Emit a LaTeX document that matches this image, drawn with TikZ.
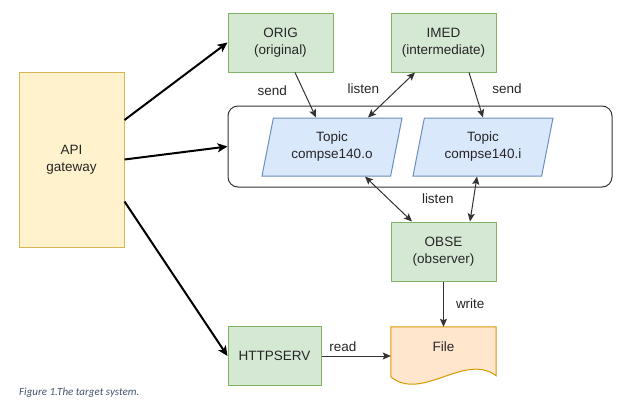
\documentclass[tikz,border=0pt]{standalone}
\usepackage{fontspec}
\setmainfont{Liberation Sans}
\newfontfamily\capfont{Carlito}
\usetikzlibrary{shapes.geometric,arrows.meta,positioning,backgrounds}
\definecolor{grfill}{HTML}{D5E8D4}
\definecolor{grline}{HTML}{82B366}
\definecolor{yefill}{HTML}{FFF2CC}
\definecolor{yeline}{HTML}{D6B656}
\definecolor{blfill}{HTML}{DAE8FC}
\definecolor{blline}{HTML}{6C8EBF}
\definecolor{orfill}{HTML}{FFE6CC}
\definecolor{orline}{HTML}{D79B00}
\definecolor{lnk}{HTML}{333333}
\definecolor{capcol}{HTML}{44546A}

\begin{document}
\begin{tikzpicture}[x=1pt, y=-1pt,
    font=\fontsize{13.5}{17}\selectfont, text=black!85,
    box/.style={draw=grline, fill=grfill, line width=1pt, minimum width=105pt,
                minimum height=59pt, align=center, inner sep=0pt},
    gate/.style={draw=yeline, fill=yefill, line width=1pt, minimum width=105pt,
                 minimum height=175pt, align=center, inner sep=0pt},
    topic/.style={trapezium, trapezium left angle=69, trapezium right angle=111,
                  trapezium stretches body, draw=blline, fill=blfill, line width=1pt,
                  minimum width=140pt, minimum height=58pt, align=center, inner sep=0pt},
    bus/.style={draw=lnk, line width=1pt, rounded corners=10pt, minimum width=384pt,
                minimum height=81pt},
    filebox/.style={minimum width=105pt, minimum height=40pt, inner sep=0pt},
    link/.style={draw=lnk, line width=1pt, -{Stealth[length=8pt,width=7pt,inset=1.5pt]}},
    twoway/.style={link, {Stealth[length=8pt,width=7pt,inset=1.5pt]}-{Stealth[length=8pt,width=7pt,inset=1.5pt]}},
    biglink/.style={draw=black, line width=2pt, -{Stealth[length=10pt,width=9pt,inset=2.5pt]}},
    lbl/.style={inner sep=1pt},
    caption/.style={font=\capfont\itshape\fontsize{11}{13}\selectfont, text=capcol, inner sep=0pt}
    ]
    \useasboundingbox (0,0) rectangle (625,405);

    \node[gate] (api) at (71.5,159.5) {API\\gateway};
    \node[box] (orig) at (280.5,42.5) {ORIG\\(original)};
    \node[box] (imed) at (443.5,42.5) {IMED\\(intermediate)};
    \node[bus] (bus) at (420,146.5) {};
    \node[topic] (topo) at (332,147) {Topic\\compse140.o};
    \node[topic] (topi) at (483,147) {Topic\\compse140.i};
    \node[box] (obse) at (443.5,251.5) {OBSE\\(observer)};
    \node[box, minimum width=93pt] (http) at (274.5,356) {HTTPSERV};
    \node[filebox] (file) at (443.5,347) {File};
    \begin{scope}[on background layer]
        \filldraw[draw=orline, fill=orfill, line width=1pt]
            (file.north west) -- (file.north east) -- ++(0,49)
            .. controls (465,352) and (422,402) .. (391,377) -- cycle;
    \end{scope}

    \draw[biglink] ([yshift=39.5pt]api.east) -- (orig.west);
    \draw[biglink] (api.east) -- (bus.west);
    \draw[biglink] ([yshift=-42pt]api.east) -- (http.west);

    \draw[link] ([xshift=14.5pt]orig.south) -- ([xshift=-16pt]topo.north)
        node[lbl, pos=.4, left=15pt] {send};
    \draw[twoway] ([xshift=-28.5pt]imed.south) -- ([xshift=36pt]topo.north)
        node[lbl, pos=.35, left=18pt] {listen};
    \draw[link] ([xshift=25.5pt]imed.south) -- (topi.north)
        node[lbl, pos=.35, right=17pt] {send};
    \draw[twoway] ([xshift=33pt]topo.south) -- ([xshift=-31.5pt]obse.north)
        node[lbl, pos=.5, right=32pt] {listen};
    \draw[twoway] ([xshift=-6pt]topi.south) -- ([xshift=26.5pt]obse.north);
    \draw[link] (obse.south) -- (file.north)
        node[lbl, pos=.5, right=11pt] {write};
    \draw[link] (http.east) -- (http -| file.west)
        node[lbl, pos=.31, above=3pt] {read};

    \node[caption, anchor=west] (cap) at (19,393) {Figure 1.The target system.};
\end{tikzpicture}
\end{document}
